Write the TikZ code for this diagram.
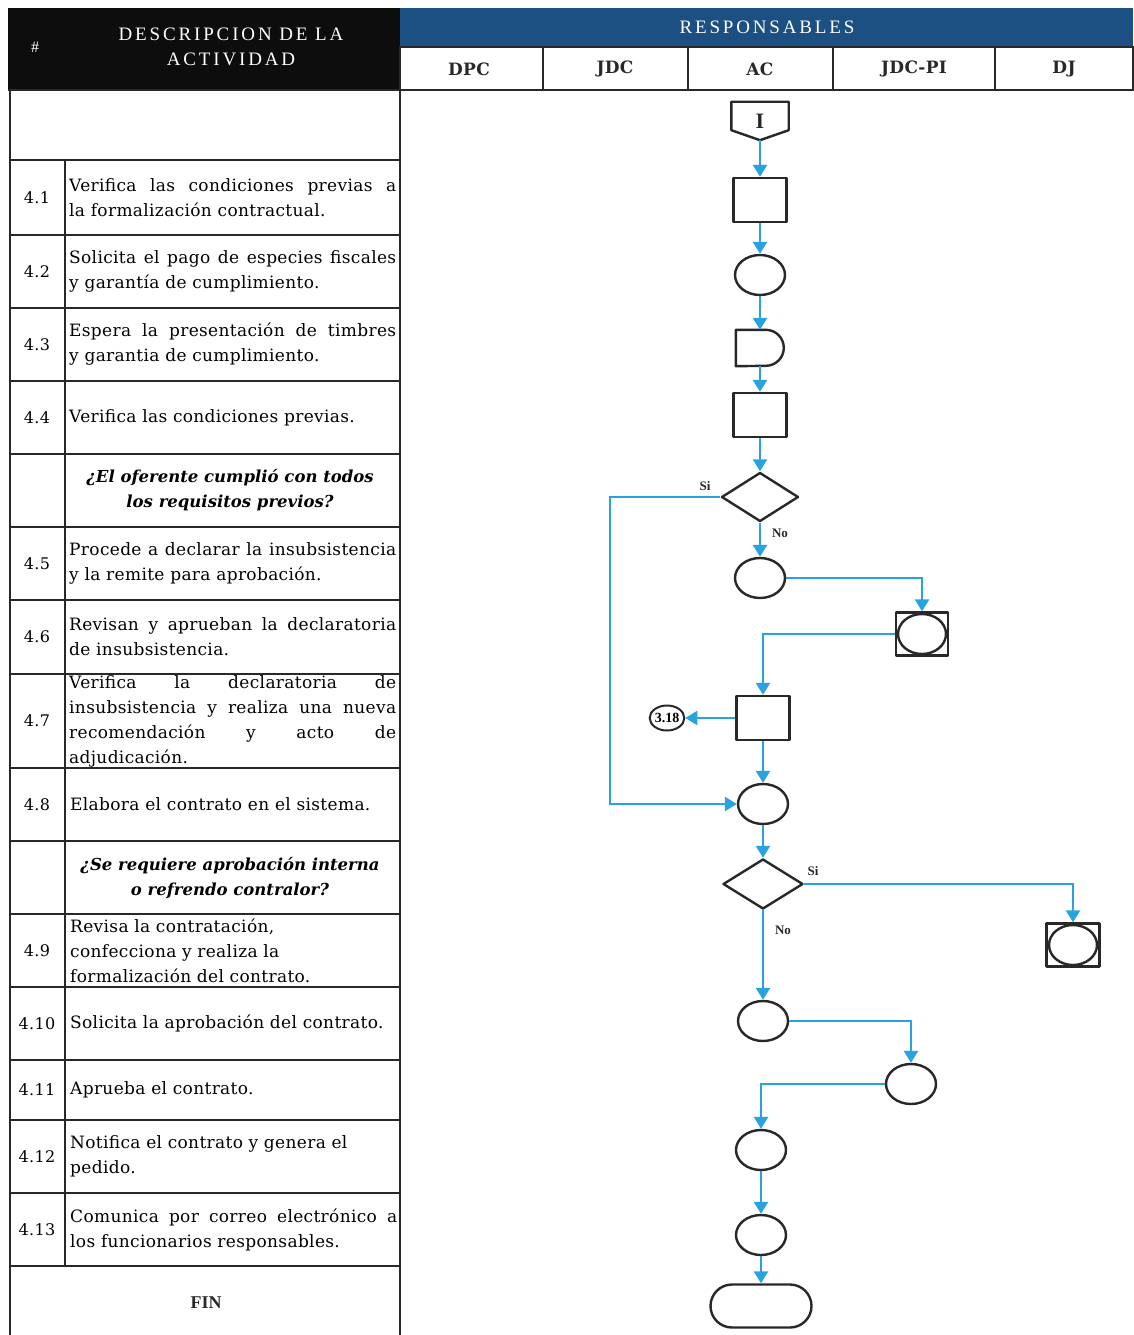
\documentclass[tikz,border=0pt]{standalone}
\usepackage{fontspec}
\setmainfont{DejaVu Serif}
\newfontfamily\tabfont[LetterSpace=2]{DejaVu Serif}
\newfontfamily\headfont[LetterSpace=15]{Liberation Serif}
\newfontfamily\plainserif{Liberation Serif}
\usetikzlibrary{arrows.meta,shapes.geometric,shapes.misc,calc}

\definecolor{flowblue}{RGB}{41,163,224}
\definecolor{headblue}{RGB}{28,79,130}
\definecolor{inkgray}{RGB}{40,40,40}

\begin{document}
\begin{tikzpicture}[x=1pt,y=-1pt,
  grid/.style={draw=inkgray,line width=2pt},
  outline/.style={draw=inkgray,line width=2.4pt,line join=round},
  shp/.style={outline,inner sep=0pt},
  proc/.style={shp,rectangle,minimum width=53pt,minimum height=44pt},
  oval/.style={shp,ellipse,minimum width=50pt,minimum height=40pt},
  dec/.style={shp,diamond,minimum width=77pt,minimum height=49pt},
  flow/.style={draw=flowblue,line width=2.6pt,-{Triangle[length=12pt,width=14pt]}},
  desc/.style={anchor=west,text width=327pt,align=justify,inner sep=0pt,
    font=\tabfont\fontsize{17}{25}\selectfont},
  descl/.style={desc,align=left},
  num/.style={inner sep=0pt,font=\tabfont\fontsize{16}{25}\selectfont},
  ask/.style={align=center,inner sep=0pt,font=\bfseries\itshape\fontsize{16.5}{25}\selectfont},
  tag/.style={font=\plainserif\bfseries\fontsize{13}{13}\selectfont,text=inkgray},
  lane/.style={font=\bfseries\tabfont\fontsize{17}{18}\selectfont,text=inkgray},
]
\useasboundingbox[fill=white] (0,0) rectangle (1133,1335);

% ---------- header ----------
\fill[black!95] (8,8) rectangle (400,90);
\fill[headblue] (400,8) rectangle (1133,47);
\draw[grid] (400,47) rectangle (1133,90);
\foreach \x in {543,688,833,995} \draw[grid] (\x,47) -- (\x,90);
\draw[grid] (8,90) -- (1133,90);

\node[text=white,font=\plainserif\fontsize{16}{16}\selectfont] (hnum) at (35,47) {\#};
\node[text=white,align=center,font=\headfont\fontsize{19}{25}\selectfont] (hdesc) at (231,47) {DESCRIPCION DE LA\\ACTIVIDAD};
\node[text=white,font=\headfont\fontsize{19}{20}\selectfont] (hresp) at (767,27) {RESPONSABLES};

\node[lane] (ldpc) at (469,69) {DPC};
\node[lane] (ljdc) at (615,69) {JDC};
\node[lane] (lac) at (760,69) {AC};
\node[lane] (ljdcpi) at (914,69) {JDC-PI};
\node[lane] (ldj) at (1064,69) {DJ};

% ---------- activity table ----------
\draw[grid] (10,90) -- (10,1335);
\draw[grid] (400,90) -- (400,1335);
\draw[grid] (65,160) -- (65,1266);
\foreach \y in {160,235,308,381,454,527,600,674,768,841,914,987,1060,1120,1193,1266}
  \draw[grid] (10,\y) -- (400,\y);

\node[num] (n41) at (37,197.5) {4.1};
\node[desc] (t41) at (69,197.5) {Verifica las condiciones previas a\linebreak la formalización contractual.};
\node[num] (n42) at (37,271.5) {4.2};
\node[desc] (t42) at (69,271.5) {Solicita el pago de especies fiscales\linebreak y garantía de cumplimiento.};
\node[num] (n43) at (37,344.5) {4.3};
\node[desc] (t43) at (69,344.5) {Espera la presentación de timbres\linebreak y garantia de cumplimiento.};
\node[num] (n44) at (37,417.5) {4.4};
\node[desc] (t44) at (69,417.5) {Verifica las condiciones previas.};
\node[ask] (q1) at (230,490.5) {¿El oferente cumplió con todos\\los requisitos previos?};
\node[num] (n45) at (37,563.5) {4.5};
\node[desc] (t45) at (69,563.5) {Procede a declarar la insubsistencia\linebreak y la remite para aprobación.};
\node[num] (n46) at (37,637) {4.6};
\node[desc] (t46) at (69,637) {Revisan y aprueban la declaratoria\linebreak de insubsistencia.};
\node[num] (n47) at (37,721) {4.7};
\node[desc] (t47) at (69,721) {Verifica la declaratoria de\linebreak insubsistencia y realiza una nueva\linebreak recomendación y acto de\linebreak adjudicación.};
\node[num] (n48) at (37,804.5) {4.8};
\node[desc] (t48) at (70,804.5) {Elabora el contrato en el sistema.};
\node[ask] (q2) at (230,877.5) {¿Se requiere aprobación interna\\o refrendo contralor?};
\node[num] (n49) at (37,950.5) {4.9};
\node[descl] (t49) at (70,950.5) {Revisa la contratación,\\confecciona y realiza la\\formalización del contrato.};
\node[num] (n410) at (37,1023.5) {4.10};
\node[desc] (t410) at (70,1023.5) {Solicita la aprobación del contrato.};
\node[num] (n411) at (37,1090) {4.11};
\node[desc] (t411) at (70,1090) {Aprueba el contrato.};
\node[num] (n412) at (37,1156.5) {4.12};
\node[descl] (t412) at (70,1156.5) {Notifica el contrato y genera el\\pedido.};
\node[num] (n413) at (37,1229.5) {4.13};
\node[desc] (t413) at (70,1229.5) {Comunica por correo electrónico a\linebreak los funcionarios responsables.};
\node[font=\plainserif\bfseries\fontsize{18}{18}\selectfont,text=inkgray] (tfin) at (206,1303) {FIN};

% ---------- flow symbols ----------
\node[inner sep=0pt,minimum width=57pt,minimum height=38pt,font=\plainserif\bfseries\fontsize{22}{22}\selectfont,text=inkgray] (ini) at (760,121) {I};
\draw[outline] (ini.north west) -- (ini.north east) -- ($(ini.south east)+(0,-10)$)
  -- (ini.south) -- ($(ini.south west)+(0,-10)$) -- cycle;

\node[proc] (p41) at (760,200) {};
\node[oval] (o42) at (760,275) {};
\node[inner sep=0pt,minimum width=48pt,minimum height=36pt] (dly) at (760,348) {};
\draw[outline] (dly.north west) -- ++(30pt,0pt) arc[start angle=90,end angle=-90,radius=18pt]
  -- (dly.south west) -- cycle;
\node[proc] (p44) at (760,415) {};
\node[dec] (d1) at (760,497) {};
\node[oval] (o45) at (760,578) {};
\node[proc,minimum width=52pt,minimum height=43pt] (b46) at (922,634) {};
\draw[outline] (b46.center) ellipse[x radius=24pt,y radius=20pt];
\node[proc] (p47) at (763,718) {};
\node[shp,ellipse,line width=2pt,minimum width=34pt,minimum height=25pt,
  font=\plainserif\bfseries\fontsize{14}{14}\selectfont] (c318) at (667,718) {3.18};
\node[oval] (o48) at (763,804) {};
\node[dec,minimum width=80pt,minimum height=50pt] (d2) at (763,884) {};
\node[proc,minimum width=53pt,minimum height=43pt] (b49) at (1073,945) {};
\draw[outline] (b49.center) ellipse[x radius=24pt,y radius=20pt];
\node[oval] (o410) at (763,1021) {};
\node[oval] (o411) at (911,1084) {};
\node[oval] (o412) at (761,1150) {};
\node[oval] (o413) at (761,1235) {};
\node[shp,rounded rectangle,minimum width=101pt,minimum height=43pt] (end) at (761,1306) {};

\coordinate (loop) at (610,497);

% ---------- connectors ----------
\draw[flow] (ini.south) -- (p41.north);
\draw[flow] (p41.south) -- (o42.north);
\draw[flow] (o42.south) -- (dly.north);
\draw[flow] (dly.south) -- (p44.north);
\draw[flow] (p44.south) -- (d1.north);
\draw[flow] (d1.south) -- (o45.north);
\draw[flow] (d1.west) -- (loop) |- (o48.west);
\draw[flow] (o45.east) -| (b46.north);
\draw[flow] (b46.west) -| (p47.north);
\draw[flow] (p47.west) -- (c318.east);
\draw[flow] (p47.south) -- (o48.north);
\draw[flow] (o48.south) -- (d2.north);
\draw[flow] (d2.east) -| (b49.north);
\draw[flow] (d2.south) -- (o410.north);
\draw[flow] (o410.east) -| (o411.north);
\draw[flow] (o411.west) -| (o412.north);
\draw[flow] (o412.south) -- (o413.north);
\draw[flow] (o413.south) -- (end.north);

\node[tag] (si1) at (705,486) {Si};
\node[tag] (no1) at (780,533) {No};
\node[tag] (si2) at (813,871) {Si};
\node[tag] (no2) at (783,930) {No};
\end{tikzpicture}
\end{document}
